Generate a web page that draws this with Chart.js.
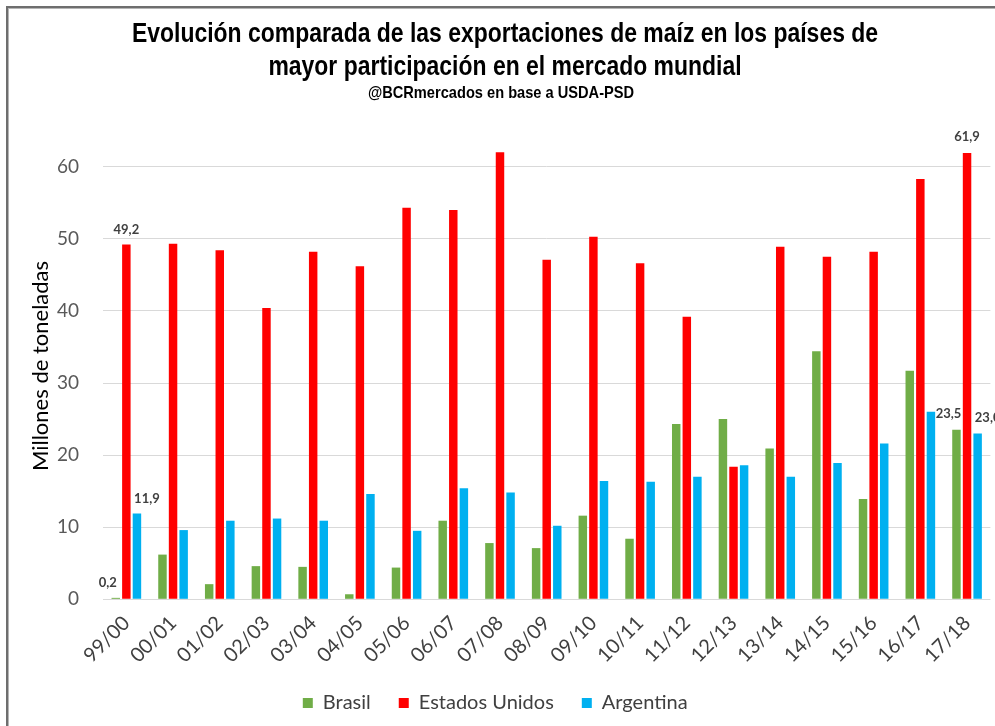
<!DOCTYPE html>
<html>
<head>
<meta charset="utf-8">
<script src="https://cdn.jsdelivr.net/npm/chart.js@4.4.1/dist/chart.umd.min.js"></script>
<style>
  html, body { margin: 0; padding: 0; background: #ffffff; }
  #wrap { width: 995px; height: 726px; position: relative; }
  canvas { display: block; }
</style>
</head>
<body>
<div id="wrap"><canvas id="c" width="995" height="726"></canvas></div>
<script>
// ---- Data ----
const categories = ['99/00','00/01','01/02','02/03','03/04','04/05','05/06','06/07','07/08','08/09',
                    '09/10','10/11','11/12','12/13','13/14','14/15','15/16','16/17','17/18'];
const brasil        = [0.2, 6.2, 2.1, 4.6, 4.5, 0.7, 4.4, 10.9, 7.8, 7.1, 11.6, 8.4, 24.3, 25.0, 20.9, 34.4, 13.9, 31.7, 23.5];
const estadosUnidos = [49.2, 49.3, 48.4, 40.4, 48.2, 46.2, 54.3, 54.0, 62.0, 47.1, 50.3, 46.6, 39.2, 18.4, 48.9, 47.5, 48.2, 58.3, 61.9];
const argentina     = [11.9, 9.6, 10.9, 11.2, 10.9, 14.6, 9.5, 15.4, 14.8, 10.2, 16.4, 16.3, 17.0, 18.6, 17.0, 18.9, 21.6, 26.0, 23.0];
const seriesNames   = ['Brasil', 'Estados Unidos', 'Argentina'];
const titleLines    = ['Evolución comparada de las exportaciones de maíz en los países de',
                       'mayor participación en el mercado mundial'];
const subtitleText  = '@BCRmercados en base a USDA-PSD';
const yAxisTitle    = 'Millones de toneladas';

// Which bars carry a value label (dataset index, category index) and small nudges
const labelled = [
  {ds: 0, i: 0,  dx: -8,  dy: -15},
  {ds: 1, i: 0,  dx: 0,   dy: -15},
  {ds: 2, i: 0,  dx: 10,  dy: -15},
  {ds: 1, i: 18, dx: 0,   dy: -16},
  {ds: 0, i: 18, dx: -8,  dy: -16},
  {ds: 2, i: 18, dx: 10,  dy: -16}
];

const AXIS_FONT = "Lato, 'Liberation Sans', sans-serif";
const TITLE_FONT = "'Liberation Sans', Arial, sans-serif";

const frame = {
  id: 'frame',
  beforeDraw(chart) {
    const ctx = chart.ctx;
    ctx.save();
    ctx.fillStyle = '#ffffff';
    ctx.fillRect(0, 0, chart.width, chart.height);
    ctx.fillStyle = '#6e6e6e';
    ctx.fillRect(6, 6, chart.width - 6, 2);
    ctx.fillRect(6, 6, 2, chart.height - 6);
    ctx.fillStyle = '#b5b5b5';
    ctx.fillRect(8, 8, chart.width - 8, 1);
    ctx.fillRect(8, 8, 1, chart.height - 8);
    ctx.restore();
  }
};

// Condensed bold heading + rotated y-axis title
const headings = {
  id: 'headings',
  afterDraw(chart) {
    const ctx = chart.ctx;
    ctx.save();
    ctx.fillStyle = '#000000';
    ctx.textAlign = 'center';
    ctx.textBaseline = 'middle';
    const cx = 505;
    ctx.font = "bold 27px " + TITLE_FONT;
    titleLines.forEach((t, k) => {
      ctx.save();
      ctx.translate(cx, 35 + k * 33);
      ctx.scale(0.85, 1);
      ctx.fillText(t, 0, 0);
      ctx.restore();
    });
    ctx.save();
    ctx.font = "bold 17px " + TITLE_FONT;
    ctx.translate(501, 93);
    ctx.scale(0.86, 1);
    ctx.fillText(subtitleText, 0, 0);
    ctx.restore();
    ctx.save();
    ctx.font = "22px " + AXIS_FONT;
    ctx.translate(41, 366);
    ctx.rotate(-Math.PI / 2);
    ctx.fillText(yAxisTitle, 0, 0);
    ctx.restore();
    ctx.restore();
  }
};

const valueLabels = {
  id: 'valueLabels',
  afterDatasetsDraw(chart) {
    const ctx = chart.ctx;
    ctx.save();
    ctx.font = "bold 13px " + AXIS_FONT;
    ctx.fillStyle = '#404040';
    ctx.textAlign = 'center';
    ctx.textBaseline = 'middle';
    labelled.forEach(l => {
      const el = chart.getDatasetMeta(l.ds).data[l.i];
      const v = chart.data.datasets[l.ds].data[l.i];
      const txt = v.toFixed(1).replace('.', ',');
      ctx.fillText(txt, el.x + l.dx, el.y + l.dy);
    });
    ctx.restore();
  }
};

const colors = ['#70ad47', '#ff0000', '#00b0f0'];
const seriesData = [brasil, estadosUnidos, argentina];

new Chart(document.getElementById('c'), {
  type: 'bar',
  data: {
    labels: categories,
    datasets: seriesNames.map((n, k) => ({
      label: n,
      data: seriesData[k],
      backgroundColor: colors[k],
      borderWidth: 0,
      categoryPercentage: 0.68,
      barPercentage: 0.8,
      clip: false
    }))
  },
  options: {
    responsive: false,
    animation: false,
    devicePixelRatio: 1,
    layout: { padding: { left: 0, right: 4.6, top: 166.7, bottom: 3 } },
    plugins: {
      title: { display: false },
      subtitle: { display: false },
      legend: {
        position: 'bottom',
        labels: {
          boxWidth: 10,
          boxHeight: 10,
          padding: 28,
          color: '#404040',
          font: { family: AXIS_FONT, size: 20 }
        }
      },
      tooltip: { enabled: false }
    },
    scales: {
      x: {
        grid: { display: false },
        border: { display: false },
        ticks: {
          color: '#404040',
          font: { family: AXIS_FONT, size: 20 },
          minRotation: 45,
          maxRotation: 45,
          padding: 4,
          autoSkip: false
        },
        afterFit(scale) { scale.height = 65.7; }
      },
      y: {
        min: 0,
        max: 60,
        ticks: {
          stepSize: 10,
          color: '#595959',
          font: { family: AXIS_FONT, size: 19 },
          padding: 24
        },
        grid: { color: '#d9d9d9', lineWidth: 1, drawTicks: false },
        border: { display: false },
        title: { display: false },
        afterFit(scale) { scale.width = 103; }
      }
    }
  },
  plugins: [frame, valueLabels, headings]
});
</script>
</body>
</html>
